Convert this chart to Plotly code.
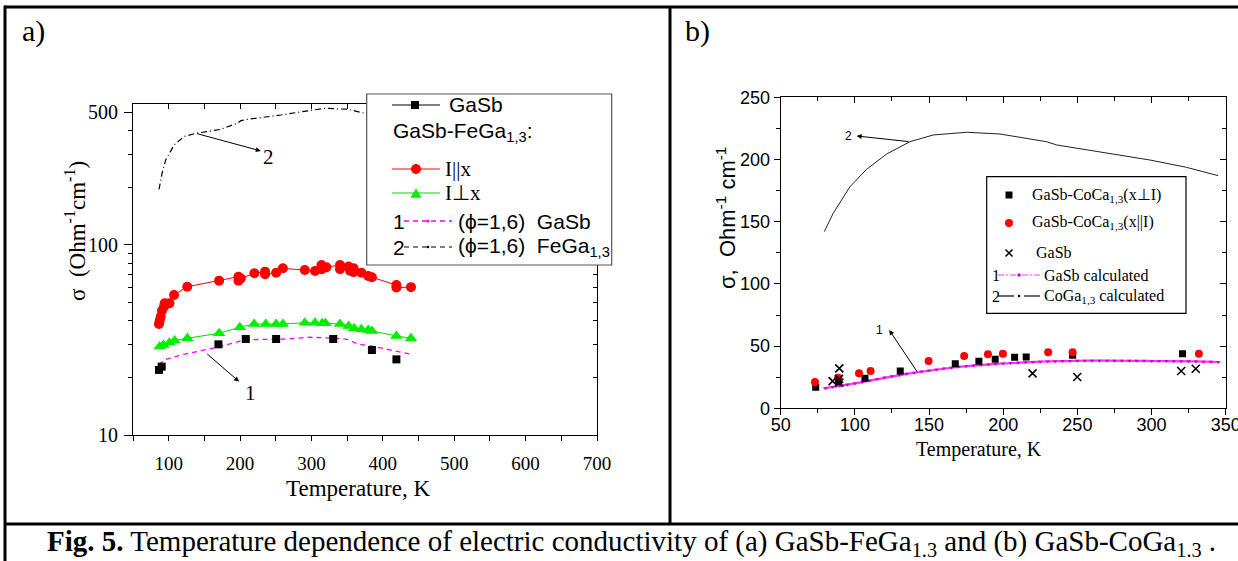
import numpy as np
import plotly.graph_objects as go

W, H = 1238, 561
TIMES = "Liberation Serif"
ARIAL = "Liberation Sans"

# ---------------- panel (a): GaSb-FeGa1,3 ----------------
t_par = [86.4, 87.4, 88.8, 90.6, 93.4, 94.4, 101, 107.5, 126, 170.6, 197.7, 197.7, 201, 220,
         235, 235, 250.5, 260, 290.7, 305, 314, 314.5, 321, 340, 340, 352, 354, 359, 359, 370,
         379.5, 384.7, 419, 419, 439.4]
s_par = [38.4, 40, 41.9, 45.1, 47.3, 49.3, 49.3, 54.6, 60.3, 64.9, 68.1, 64.9, 66.7, 71,
         72.4, 70.2, 71.5, 75.4, 73.8, 72.9, 78.5, 74.6, 76.4, 78.5, 74.6, 77, 73.3, 75.4, 72, 71.5,
         68.7, 67.6, 61.5, 59.7, 60]

t_perp = [87.4, 92.6, 101, 108.4, 126.2, 170.6, 199.6, 219.7, 236, 250.5, 260, 290.7, 305, 315,
          319.6, 340, 352, 359.8, 370, 379.5, 384.7, 419, 439.4]
s_perp = [29.2, 29.8, 30.6, 31.4, 32.3, 34.3, 36.9, 38.4, 38.4, 38.4, 38.4, 39, 39, 38.7,
          38.7, 38.4, 37.5, 36.5, 36, 35.7, 35.3, 33.2, 32.3]

t_gasb_a = [86.4, 90.2, 169.7, 208, 250.5, 330.5, 384.7, 419]
s_gasb_a = [22, 22.9, 30, 32, 32, 32, 28, 25]

t_model1 = [86.4, 93.4, 117, 149.5, 173, 201, 219.7, 257, 299, 332, 350.6, 364.7, 383, 411, 439.4]
s_model1 = [23.4, 24.8, 26.4, 28, 29.2, 31.3, 31.8, 31.9, 32.7, 32.3, 31.9, 30.1, 29.4, 28, 26.6]

t_model2 = [86.4, 91.2, 95.8, 107.5, 121.5, 137.9, 173, 196, 201, 210, 257, 299, 318, 350.6, 378]
s_model2 = [196, 243, 280, 336, 372, 387, 406, 437, 451, 458, 483, 509, 524, 518, 490]

a_xticks = [100, 200, 300, 400, 500, 600, 700]
a_xminor = [50, 150, 250, 350, 450, 550, 650]
a_yticks = [10, 100, 500]
a_yminor = [20, 30, 40, 50, 60, 70, 80, 90, 200, 300, 400]

# ---------------- panel (b): GaSb-CoGa1,3 ----------------
t_perp_b = [73.6, 89, 106.8, 130.6, 167.7, 183.6, 194.6, 207.7, 215.5, 246.8, 320.9]
s_perp_b = [16.9, 21.5, 24.1, 30, 35.9, 37.8, 39.4, 41, 41.2, 42.6, 43.9]

t_par_b = [73.1, 88.8, 102.8, 110.6, 149.7, 173.7, 189.7, 199.8, 230.3, 246.8, 331.9]
s_par_b = [21.1, 24.6, 28.1, 30, 38, 42, 43.4, 43.9, 45, 45, 43.9]

t_gasb_b = [85, 89.3, 89.5, 89.5, 219.8, 249.9, 320, 329.8]
s_gasb_b = [21.9, 23.6, 32.1, 20.6, 28.1, 25.2, 30, 31.8]

t_gasb_calc = [80, 85, 90, 95, 100, 105, 110, 115, 120, 125, 130, 135, 140, 145, 150, 155, 160,
               165, 170, 175, 180, 185, 190, 195, 200, 205, 210, 215, 220, 225, 230, 235, 240,
               245, 250, 255, 260, 265, 270, 275, 280, 285, 290, 295, 300, 305, 310, 315, 320,
               325, 330, 335, 340, 345]
s_gasb_calc = [16.2, 17.1, 18.0, 19.0, 20.0, 21.1, 22.3, 23.5, 24.7, 25.8, 26.8, 27.7, 28.6, 29.5,
               30.4, 31.1, 31.9, 32.6, 33.3, 33.9, 34.4, 34.9, 35.3, 35.7, 36.0, 36.4, 36.7, 37.0,
               37.2, 37.5, 37.7, 37.9, 38.0, 38.1, 38.2, 38.3, 38.3, 38.3, 38.3, 38.3, 38.3, 38.3,
               38.2, 38.2, 38.1, 38.0, 38.0, 37.9, 37.8, 37.8, 37.7, 37.5, 37.4, 37.2]

t_coga_calc = [79.4, 85.4, 96.7, 107.9, 121.4, 137.1, 152.8, 175.3, 197.8, 229.2, 236, 265.2,
               298.9, 323.6, 344.9]
s_coga_calc = [142, 156.8, 178.1, 192.1, 204.4, 214.3, 219.7, 221.9, 220.5, 214.3, 211.7, 206.3,
               199.6, 193.7, 187]


def px(x):
    return x / W


def py(y):
    return 1 - y / H


fig = go.Figure()

# panel (a) traces
fig.add_trace(go.Scatter(x=t_model2, y=s_model2, mode="lines", xaxis="x", yaxis="y",
                         line=dict(color="black", width=1.2, dash="6px,3px,1px,3px")))
fig.add_trace(go.Scatter(x=t_model1, y=s_model1, mode="lines", xaxis="x", yaxis="y",
                         line=dict(color="#ff00ff", width=1.3, dash="5px,4px")))
fig.add_trace(go.Scatter(x=t_par, y=s_par, mode="lines+markers", xaxis="x", yaxis="y",
                         line=dict(color="red", width=1),
                         marker=dict(symbol="circle", size=10, color="red")))
fig.add_trace(go.Scatter(x=t_perp, y=s_perp, mode="lines+markers", xaxis="x", yaxis="y",
                         line=dict(color="#00dd00", width=1),
                         marker=dict(symbol="triangle-up", size=11, color="#00ee00")))
fig.add_trace(go.Scatter(x=t_gasb_a, y=s_gasb_a, mode="markers", xaxis="x", yaxis="y",
                         marker=dict(symbol="square", size=8, color="black")))

# panel (b) traces
fig.add_trace(go.Scatter(x=t_coga_calc, y=s_coga_calc, mode="lines", xaxis="x2", yaxis="y2",
                         line=dict(color="#222", width=1)))
fig.add_trace(go.Scatter(x=t_gasb_calc, y=s_gasb_calc, mode="lines+markers", xaxis="x2", yaxis="y2",
                         line=dict(color="#ff33ff", width=2.2),
                         marker=dict(symbol="triangle-down", size=4, color="#d000d0")))
fig.add_trace(go.Scatter(x=t_perp_b, y=s_perp_b, mode="markers", xaxis="x2", yaxis="y2",
                         marker=dict(symbol="square", size=7, color="black")))
fig.add_trace(go.Scatter(x=t_par_b, y=s_par_b, mode="markers", xaxis="x2", yaxis="y2",
                         marker=dict(symbol="circle", size=8, color="red")))
fig.add_trace(go.Scatter(x=t_gasb_b, y=s_gasb_b, mode="markers", xaxis="x2", yaxis="y2",
                         marker=dict(symbol="x-thin", size=8, color="black",
                                     line=dict(width=1.6, color="black"))))

# carriers for the mirrored (inward-tick) frame axes
fig.add_trace(go.Scatter(x=[], y=[], xaxis="x3", yaxis="y3", hoverinfo="skip"))
fig.add_trace(go.Scatter(x=[], y=[], xaxis="x4", yaxis="y4", hoverinfo="skip"))

base = dict(showline=True, linecolor="black", linewidth=1, tickcolor="black", tickwidth=1,
            showgrid=False, zeroline=False, automargin=False)
a_range_y = [1, np.log10(552)]
minor_out = dict(ticks="outside", tickcolor="black", tickwidth=1)
minor_in = dict(ticks="inside", tickcolor="black", tickwidth=1)

fig.update_layout(
    width=W, height=H, margin=dict(l=0, r=0, t=0, b=0, autoexpand=False),
    paper_bgcolor="white", plot_bgcolor="white", showlegend=False,
    xaxis=dict(base, domain=[px(133), px(597)], anchor="y", range=[50, 700],
               tickmode="array", tickvals=a_xticks, ticktext=[str(v) for v in a_xticks],
               ticks="outside", ticklen=5, ticklabelstandoff=6, ticklabeloverflow="allow",
               minor=dict(minor_out, tickmode="array", tickvals=a_xminor, ticklen=5),
               tickfont=dict(family=TIMES, size=19, color="black")),
    yaxis=dict(base, domain=[py(435), py(104)], anchor="x", type="log", range=a_range_y,
               tickmode="array", tickvals=a_yticks, ticktext=[str(v) for v in a_yticks],
               ticks="outside", ticklen=8, ticklabelstandoff=2,
               minor=dict(minor_out, tickmode="array", tickvals=a_yminor, ticklen=4),
               tickfont=dict(family=TIMES, size=20, color="black")),
    xaxis3=dict(base, overlaying="x", anchor="y", side="top", range=[50, 700],
                tickmode="array", tickvals=a_xticks[:-1], ticks="inside", ticklen=5,
                minor=dict(minor_in, tickmode="array", tickvals=a_xminor[1:], ticklen=5),
                showticklabels=False),
    yaxis3=dict(base, overlaying="y", anchor="x", side="right", type="log", range=a_range_y,
                tickmode="array", tickvals=[100], ticks="inside", ticklen=8,
                minor=dict(minor_in, tickmode="array", tickvals=a_yminor, ticklen=4),
                showticklabels=False),
    xaxis2=dict(base, domain=[px(780.7), px(1225.7)], anchor="y2", range=[50, 350],
                tickmode="linear", tick0=50, dtick=50, ticks="outside", ticklen=6,
                ticklabelstandoff=-6, ticklabeloverflow="allow",
                minor=dict(minor_out, dtick=25, ticklen=4),
                tickfont=dict(family=ARIAL, size=18, color="black")),
    yaxis2=dict(base, domain=[py(408.3), py(97.3)], anchor="x2", range=[0, 250],
                tickmode="linear", tick0=0, dtick=50, ticks="outside", ticklen=6,
                minor=dict(minor_out, dtick=25, ticklen=4),
                tickfont=dict(family=ARIAL, size=18, color="black")),
    xaxis4=dict(base, overlaying="x2", anchor="y2", side="top", range=[50, 350],
                tickmode="linear", tick0=50, dtick=50, ticks="inside", ticklen=6,
                minor=dict(minor_in, dtick=25, ticklen=4), showticklabels=False),
    yaxis4=dict(base, overlaying="y2", anchor="x2", side="right", range=[0, 250],
                tickmode="linear", tick0=0, dtick=50, ticks="inside", ticklen=6,
                minor=dict(minor_in, dtick=25, ticklen=4), showticklabels=False),
)

shapes = []
ann = []


def hline(x0, x1, y, width=1, color="black", dash="solid"):
    shapes.append(dict(type="line", xref="paper", yref="paper", x0=px(x0), x1=px(x1),
                       y0=py(y), y1=py(y), line=dict(color=color, width=width, dash=dash),
                       layer="above"))


def vline(x, y0, y1, width=1, color="black"):
    shapes.append(dict(type="line", xref="paper", yref="paper", x0=px(x), x1=px(x),
                       y0=py(y0), y1=py(y1), line=dict(color=color, width=width), layer="above"))


def box(x0, y0, x1, y1, color="black"):
    shapes.append(dict(type="rect", xref="paper", yref="paper", x0=px(x0), x1=px(x1),
                       y0=py(y1), y1=py(y0), line=dict(color=color, width=1.2),
                       fillcolor="white", layer="above"))


def key_square(cx, cy, s, color="black"):
    shapes.append(dict(type="rect", xref="paper", yref="paper", x0=px(cx - s / 2), x1=px(cx + s / 2),
                       y0=py(cy + s / 2), y1=py(cy - s / 2), line=dict(width=0),
                       fillcolor=color, layer="above"))


def key_circle(cx, cy, d, color):
    shapes.append(dict(type="circle", xref="paper", yref="paper", x0=px(cx - d / 2), x1=px(cx + d / 2),
                       y0=py(cy + d / 2), y1=py(cy - d / 2), line=dict(width=0),
                       fillcolor=color, layer="above"))


def key_triangle(cx, cy, s, color):
    h = s * 0.87
    path = "M {:.5f},{:.5f} L {:.5f},{:.5f} L {:.5f},{:.5f} Z".format(
        px(cx - s / 2), py(cy + h / 2), px(cx + s / 2), py(cy + h / 2), px(cx), py(cy - h / 2))
    shapes.append(dict(type="path", xref="paper", yref="paper", path=path, line=dict(width=0),
                       fillcolor=color, layer="above"))


def key_cross(cx, cy, s):
    for sgn in (1, -1):
        shapes.append(dict(type="line", xref="paper", yref="paper",
                           x0=px(cx - s / 2), x1=px(cx + s / 2),
                           y0=py(cy - sgn * s / 2), y1=py(cy + sgn * s / 2),
                           line=dict(color="black", width=1.5), layer="above"))


def text(x, y, s, size, family=TIMES, xanchor="left", angle=0, color="black"):
    ann.append(dict(x=px(x), y=py(y), xref="paper", yref="paper", text=s, showarrow=False,
                    xanchor=xanchor, yanchor="middle", textangle=angle,
                    font=dict(family=family, size=size, color=color)))


# outer frame and panel separators
hline(5, W, 7, width=3)
vline(5, 5.5, H, width=3)
vline(670, 7, 524, width=3)
hline(5, W, 524, width=3)

# panel labels, titles, caption
text(20, 31, "a)", 30)
text(683, 31, "b)", 30)
text(358, 488, "Temperature, K", 23, xanchor="center")
text(75, 231, "σ  (Ohm<sup>-1</sup>cm<sup>-1</sup>)", 23, xanchor="center", angle=-90)
text(979, 449, "Temperature, K", 20, xanchor="center")
text(726, 218, "σ,  Ohm<sup>-1</sup> cm<sup>-1</sup>", 22, family=ARIAL, xanchor="center", angle=-90)
text(631, 543, "<b>Fig. 5.</b> Temperature dependence of electric conductivity of (a) "
     "GaSb-FeGa<sub>1.3</sub> and (b) GaSb-CoGa<sub>1.3</sub> .", 29, xanchor="center")

# legend of panel (a)
box(366.7, 94, 611.7, 265, color="#555")
hline(392, 440, 105)
key_square(415, 105, 8)
text(447, 105, "GaSb", 21, family=ARIAL)
text(391, 132, "GaSb-FeGa<sub>1,3</sub>:", 21, family=ARIAL)
hline(392, 440, 169, color="red")
key_circle(416, 169, 10, "red")
text(443, 169, "I||x", 21)
hline(392, 440, 193, color="#00dd00")
key_triangle(416, 193, 11, "#00ee00")
text(443, 193, "I⊥x", 21)
text(391, 221, "1", 21, family=ARIAL)
hline(404, 452, 221, color="#ff00ff", width=1.3, dash="5px,4px")
key_circle(428, 221, 3, "#ff00ff")
text(456, 221, "(ϕ=1,6)  GaSb", 21, family=ARIAL)
text(391, 247, "2", 21, family=ARIAL)
hline(404, 452, 247, width=1.2, dash="5px,4px")
key_circle(428, 247, 2.5, "black")
text(456, 247, "(ϕ=1,6)  FeGa<sub>1,3</sub>", 21, family=ARIAL)

# legend of panel (b)
box(986.7, 176.7, 1186, 313.3)
key_square(1009, 195, 7)
text(1030, 195, "GaSb-CoCa<sub>1,3</sub>(x⊥I)", 16)
key_circle(1009, 223, 8, "red")
text(1030, 223, "GaSb-CoCa<sub>1,3</sub>(x||I)", 16)
key_cross(1009, 253, 7)
text(1034, 253, "GaSb", 16)
text(990, 275, "1", 16)
hline(998, 1040, 275, color="#ff33ff", width=1.2, dash="6px,2px,2px,2px")
key_circle(1019, 275, 3.5, "#d000d0")
text(1042, 275, "GaSb calculated", 16)
text(990, 296, "2", 16)
hline(998, 1014, 296, width=1.2)
key_circle(1019, 296, 2.5, "black")
hline(1024, 1040, 296, width=1.2)
text(1042, 296, "CoGa<sub>1,3</sub> calculated", 16)

# curve labels with arrows (data coordinates)
arrow = dict(showarrow=True, arrowhead=2, arrowsize=1, arrowwidth=1, arrowcolor="black", text="")
ann.append(dict(arrow, xref="x", yref="y", axref="x", ayref="y",
                x=229, y=2.495, ax=137.9, ay=np.log10(387)))
ann.append(dict(xref="x", yref="y", x=240, y=2.463, text="2", showarrow=False,
                font=dict(family=TIMES, size=21, color="black")))
ann.append(dict(arrow, xref="x", yref="y", axref="x", ayref="y",
                x=198.6, y=1.281, ax=152, ay=1.433))
ann.append(dict(xref="x", yref="y", x=215, y=1.221, text="1", showarrow=False,
                font=dict(family=TIMES, size=21, color="black")))
ann.append(dict(arrow, xref="x2", yref="y2", axref="x2", ayref="y2",
                x=101.2, y=218.9, ax=137.1, ay=214.3))
ann.append(dict(xref="x2", yref="y2", x=95.6, y=219, text="2", showarrow=False,
                font=dict(family=ARIAL, size=12, color="black")))
ann.append(dict(arrow, xref="x2", yref="y2", axref="x2", ayref="y2",
                x=123.2, y=62.9, ax=142.7, ay=28.1))
ann.append(dict(xref="x2", yref="y2", x=116.4, y=63, text="1", showarrow=False,
                font=dict(family=ARIAL, size=12, color="black")))

fig.update_layout(shapes=shapes, annotations=ann)
fig.write_html("out.html")
